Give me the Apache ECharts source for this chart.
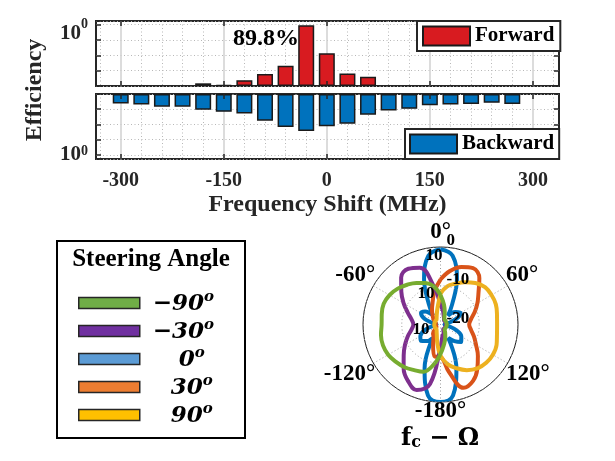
<!DOCTYPE html>
<html><head><meta charset="utf-8">
<script src="https://cdn.jsdelivr.net/npm/echarts@6/dist/echarts.min.js"></script>
<style>html,body{margin:0;padding:0;background:#fff}#c{width:615px;height:461px}</style>
</head><body><div id="c"></div>
<script>
// ---------------- data ----------------
const freqs = [-300,-270,-240,-210,-180,-150,-120,-90,-60,-30,0,30,60,90,120,150,180,210,240,270];
const forwardEff = [null,null,null,null,1.5e-4,1.15e-4,2.4e-4,6e-4,2.1e-3,0.898,0.0135,6.6e-4,4e-4,null,null,null,null,null,null,null];
const backwardEff = [4.3e-4,4.9e-4,6.8e-4,6.8e-4,1.1e-3,1.5e-3,1.9e-3,5.8e-3,0.015,0.027,0.0135,9.1e-3,2.3e-3,1.2e-3,9.5e-4,5.4e-4,4.9e-4,4.5e-4,3.8e-4,4.5e-4];
const xMajorTicks = [-300,-150,0,150,300];
const xMinorTicks = [-330,-270,-240,-210,-180,-120,-90,-60,-30,30,60,90,120,180,210,240,270,330];
const peakLabel = '89.8%';

const thetaDeg = [0,10,20,30,40,50,60,70,80,90,100,110,120,130,140,150,160,170,180,190,200,210,220,230,240,250,260,270,280,290,300,310,320,330,340,350];
const gain0   = [-0.6,-2,-7.6,-14,-17,-15,-14,-15.6,-18,-19,-18,-15.6,-13.8,-13,-14.4,-16,-8,-1.4,0,-1.4,-8,-16,-14.4,-13.4,-14,-15.6,-18,-19,-18,-15.6,-14.2,-14.8,-17,-14,-7.6,-2];
const gain30  = [-8.4,-6,-4.2,-3.2,-4.4,-7.2,-9,-10.6,-12,-12.6,-12,-10.8,-9.4,-7.4,-5.2,-3.2,-2.6,-7.6,-11.6,-11.6,-14.4,-16.4,-17,-18.4,-18.8,-18.8,-18.8,-18.8,-18.8,-18.6,-18.2,-17.6,-16.8,-15.6,-14,-11.2];
const gain90  = [-12,-10,-8.8,-7.4,-6,-5,-4.8,-4.8,-5.2,-5.4,-5.2,-4.6,-4.4,-4.6,-5.2,-6.4,-8,-9.6,-12,-15.2,-17.2,-18,-18.4,-18.4,-18.4,-18.4,-18.4,-18.4,-18.4,-18.4,-18.4,-18.4,-18.4,-18,-17.2,-15.6];
const gainM90 = [-12.4,-14.8,-16.8,-18,-18.4,-18.4,-18.4,-18.4,-18.4,-18.4,-18.4,-18.4,-18.4,-18.4,-18.4,-17.6,-16.4,-14.8,-12.4,-9.4,-7,-6.4,-5.6,-5,-4.4,-4.2,-4.4,-4.8,-4.6,-4.4,-4.8,-5.6,-6.6,-7.6,-8.6,-10];
const gainM30 = [-15,-16.4,-17.6,-18.2,-18.6,-18.6,-18.6,-18.6,-18.6,-18.6,-18.6,-18.6,-18.6,-18.6,-18.6,-18.6,-17.6,-17,-14,-4.4,-2,-3.2,-5.2,-7.6,-9.4,-11,-12.4,-13,-12.4,-11,-9,-6.8,-4.2,-3.4,-4.4,-10];
const steerNames = ['\u221290','\u221230','0','30','90'];
const angleTickLabels = ['0°','60°','120°','-180°','-120°','-60°'];

// ---------------- styles ----------------
const SERIF = "'Liberation Serif','Times New Roman',serif";
const MATH = "'DejaVu Serif',serif";
const DARK = '#262626';
const XMIN = -336, XMAX = 338;
const legendColors = ['#70AD47','#7030A0','#5B9BD5','#ED7D31','#FFC000'];

function xAxes(g, withLabels) {
  const base = () => ({gridIndex:g, type:'value', min:XMIN, max:XMAX,
    axisLine:{show:false,onZero:false}, axisLabel:{show:false}, axisTick:{show:false}, splitLine:{show:false}});
  const tickStyle = {color:DARK, width:1.5};
  return [
    Object.assign(base(), {position:'bottom', z:0, axisTick:{show:false, customValues:xMajorTicks},
      splitLine:{show:true, lineStyle:{color:'#d0d0d0', width:1.5}}}),
    Object.assign(base(), {position:'bottom', z:0, axisTick:{show:false, customValues:xMinorTicks},
      splitLine:{show:true, lineStyle:{color:'#b8b8b8', width:1, type:[1,2.5]}}}),
    Object.assign(base(), {position:'bottom', z:5,
      axisTick:{show:true, inside:true, length:5, customValues:xMajorTicks, lineStyle:tickStyle},
      axisLabel: withLabels ? {show:true, customValues:xMajorTicks, margin:12, color:DARK,
        fontFamily:SERIF, fontWeight:'bold', fontSize:20, formatter:v=>String(v)} : {show:false},
      name: withLabels ? 'Frequency Shift (MHz)' : '', nameLocation:'middle', nameGap:34,
      nameTextStyle:{fontFamily:SERIF, fontWeight:'bold', fontSize:24, color:DARK}}),
    Object.assign(base(), {position:'top', z:5,
      axisTick:{show:true, inside:true, length:5, customValues:xMajorTicks, lineStyle:tickStyle}})
  ];
}
function yAxes(g, inverse, ymax, rich) {
  const base = () => ({gridIndex:g, type:'log', logBase:10, min:1e-4, max:ymax, startValue:1e-4, inverse:inverse,
    axisLine:{show:false,onZero:false}, axisLabel:{show:false}, axisTick:{show:false}, splitLine:{show:false}});
  const tickStyle = {color:DARK, width:1.5};
  return [
    Object.assign(base(), {position:'left', z:0,
      splitLine:{show:true, lineStyle:{color:'#b8b8b8', width:1, type:[1,2.5]}}}),
    Object.assign(base(), {position:'left', z:5,
      axisTick:{show:true, inside:true, length:5, lineStyle:tickStyle},
      axisLabel:{show:true, margin:8, color:DARK,
        formatter: v => (Math.abs(Math.log10(v)) < 1e-6 ? '{b|10}{s|0}' : ''),
        rich:rich}}),
    Object.assign(base(), {position:'right', z:5,
      axisTick:{show:true, inside:true, length:5, lineStyle:tickStyle}})
  ];
}
const richTop = {
  b:{fontFamily:SERIF, fontWeight:'bold', fontSize:21, color:DARK, verticalAlign:'bottom', lineHeight:40},
  s:{fontFamily:SERIF, fontWeight:'bold', fontSize:14, color:DARK, verticalAlign:'middle', lineHeight:14}
};
const richBottom = {
  b:{fontFamily:SERIF, fontWeight:'bold', fontSize:21, color:DARK, verticalAlign:'bottom', lineHeight:20},
  s:{fontFamily:SERIF, fontWeight:'bold', fontSize:14, color:DARK, verticalAlign:'top', lineHeight:14}
};
function toPolar(g) {
  const d = thetaDeg.map((t,i) => [g[i], t]);
  d.push([g[0], 360]);
  return d;
}
function polarSeries(name, g, color) {
  return {type:'line', coordinateSystem:'polar', polarIndex:0, name:name, data:toPolar(g),
    smooth:0.4, symbol:'none', lineStyle:{color:color, width:4}, itemStyle:{color:color}, z:3};
}

const fwdData = [], bwdData = [];
freqs.forEach((f,i) => {
  if (forwardEff[i] != null) fwdData.push([f, forwardEff[i]]);
  if (backwardEff[i] != null) bwdData.push([f, backwardEff[i]]);
});

const legendText = {fontFamily:SERIF, fontWeight:'bold', fontSize:21, color:'#000', lineHeight:22};
const numTok = (pad) => ({fontFamily:MATH, fontStyle:'italic', fontWeight:'bold', fontSize:23, color:'#000',
  lineHeight:26, verticalAlign:'bottom', padding:[0,0,0,pad]});

const option = {
  animation:false,
  backgroundColor:'#fff',
  grid:[
    {left:96, top:21, width:463, height:65, show:true, borderColor:DARK, borderWidth:2, backgroundColor:'transparent', containLabel:false, outerBoundsMode:'none'},
    {left:96, top:94, width:463, height:65, show:true, borderColor:DARK, borderWidth:2, backgroundColor:'transparent', containLabel:false, outerBoundsMode:'none'}
  ],
  xAxis: xAxes(0,false).concat(xAxes(1,true)),
  yAxis: yAxes(0,false,1.7,richTop).concat(yAxes(1,true,1.9,richBottom)),
  polar:{center:[440.5,324.5], radius:77.5},
  angleAxis:{type:'value', min:0, max:360, interval:60, startAngle:90, clockwise:true,
    axisLine:{show:true, lineStyle:{color:'#1a1a1a', width:1}},
    axisTick:{show:false},
    splitLine:{show:true, lineStyle:{color:'#9a9a9a', width:1, type:[1,2.5]}},
    axisLabel:{show:true, margin:-2, color:'#000', fontFamily:SERIF, fontWeight:'bold', fontSize:23,
      formatter: v => { const i = Math.round(v/60); if (i < 0 || i > 5) return ''; return i === 0 ? '{a|' + angleTickLabels[0] + '}' : angleTickLabels[i]; },
      rich:{a:{fontFamily:SERIF, fontWeight:'bold', fontSize:23, color:'#000', padding:[0,0,5,0]}}}},
  radiusAxis:{type:'value', min:-20, max:0, interval:10, z:6,
    axisLine:{show:false}, axisTick:{show:false},
    splitLine:{show:true, lineStyle:{color:'#9a9a9a', width:1, type:[1,2.5]}},
    axisLabel:{show:true, margin:-6, align:'left', verticalAlign:'bottom', lineHeight:12,
      color:'#000', fontFamily:SERIF, fontWeight:'bold', fontSize:17, formatter:v=>String(v)}},
  legend:[
    {data:['Forward'], left:417, top:21, selectedMode:false, icon:'rect', itemWidth:47, itemHeight:19,
      padding:[4,6,4,5], borderColor:DARK, borderWidth:2, backgroundColor:'#fff', textStyle:legendText, z:10},
    {data:['Backward'], left:405, top:129, selectedMode:false, icon:'rect', itemWidth:47, itemHeight:19,
      padding:[4,5,4,4], borderColor:DARK, borderWidth:2, backgroundColor:'#fff', textStyle:legendText, z:10},
    {data: steerNames.map((n,i) => ({name:n, itemStyle:{color:legendColors[i], borderColor:DARK, borderWidth:1.5}})),
      orient:'vertical', left:78, top:290, itemWidth:61, itemHeight:11, itemGap:2, padding:0,
      selectedMode:false, icon:'rect',
      formatter: n => '{n' + n.length + '|' + n + '}{o|o}',
      textStyle:{color:'#000', rich:{
        n3:numTok(8), n2:numTok(26), n1:numTok(34),
        o:{fontFamily:MATH, fontStyle:'italic', fontWeight:'bold', fontSize:15, color:'#000', lineHeight:15, verticalAlign:'top'}
      }}}
  ],
  series:[
    {type:'bar', name:'Forward', xAxisIndex:0, yAxisIndex:0, data:fwdData, barWidth:16,
      itemStyle:{color:'#D81B20', borderColor:'#1a1a1a', borderWidth:1.5}, z:2},
    {type:'bar', name:'Backward', xAxisIndex:4, yAxisIndex:3, data:bwdData, barWidth:16,
      itemStyle:{color:'#0072BD', borderColor:'#1a1a1a', borderWidth:1.5}, z:2},
    polarSeries(steerNames[2], gain0, '#0072BD'),
    polarSeries(steerNames[3], gain30, '#D95319'),
    polarSeries(steerNames[1], gainM30, '#7E2F8E'),
    polarSeries(steerNames[4], gain90, '#EDB120'),
    polarSeries(steerNames[0], gainM90, '#77AC30')
  ],
  graphic:[
    {type:'text', x:35, y:90, rotation:Math.PI/2, z:10,
      style:{text:'Efficiency', font:'bold 24px ' + SERIF, fill:DARK, align:'center', verticalAlign:'middle'}},
    {type:'text', x:266, y:39, z:10,
      style:{text:peakLabel, font:'bold 24px ' + SERIF, fill:'#000', align:'center', verticalAlign:'middle'}},
    {type:'rect', shape:{x:57, y:241, width:188, height:197}, z:1,
      style:{fill:'none', stroke:'#000', lineWidth:2}},
    {type:'text', x:151, y:260, z:10,
      style:{text:'Steering Angle', font:'bold 25px ' + SERIF, fill:'#000', align:'center', verticalAlign:'middle'}},
    {type:'text', x:440, y:437, z:10,
      style:{text:'{f|f}{c|c}{m| \u2212 \u03A9}', align:'center', verticalAlign:'middle',
        rich:{
          f:{fontFamily:MATH, fontWeight:'bold', fontSize:24, fill:'#000', lineHeight:28, verticalAlign:'bottom'},
          c:{fontFamily:MATH, fontWeight:'bold', fontSize:16, fill:'#000', lineHeight:14, verticalAlign:'bottom'},
          m:{fontFamily:MATH, fontWeight:'bold', fontSize:24, fill:'#000', lineHeight:28, verticalAlign:'bottom'}
        }}},
    {type:'text', x:434, y:256, z:10, style:{text:'10', font:'bold 17px ' + SERIF, fill:'#000', align:'center', verticalAlign:'middle'}},
    {type:'text', x:426, y:294, z:10, style:{text:'10', font:'bold 17px ' + SERIF, fill:'#000', align:'center', verticalAlign:'middle'}},
    {type:'text', x:421, y:330, z:10, style:{text:'10', font:'bold 17px ' + SERIF, fill:'#000', align:'center', verticalAlign:'middle'}}
  ]
};
const chart = echarts.init(document.getElementById('c'));
chart.setOption(option);
</script>
</body></html>
